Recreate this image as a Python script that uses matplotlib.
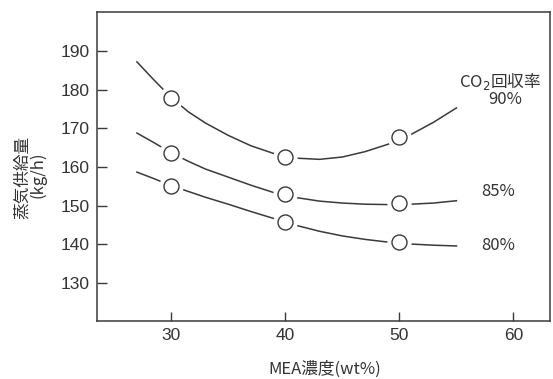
import matplotlib
matplotlib.use("Agg")
import matplotlib.pyplot as plt

plt.rcParams['font.family'] = ['Liberation Sans', 'Noto Sans CJK JP', 'DejaVu Sans']

# measured points (markers)
mea = [30, 40, 50]
steam_90 = [177.8, 162.7, 167.8]
steam_85 = [163.7, 153.0, 150.6]
steam_80 = [155.2, 145.8, 140.6]

# fitted curves
curve_x = [27.0, 28.5, 30.0, 31.5, 33.0, 35.0, 37.0, 39.0, 41.0, 43.0, 45.0, 47.0, 49.0, 51.0, 53.0, 55.0]
curve_90 = [187.2, 182.5, 178.0, 174.3, 171.4, 168.2, 165.5, 163.5, 162.3, 162.0, 162.6, 164.0, 165.9, 168.4, 171.6, 175.3]
curve_85 = [168.8, 166.3, 163.7, 161.5, 159.5, 157.4, 155.3, 153.4, 152.1, 151.2, 150.7, 150.4, 150.3, 150.4, 150.7, 151.3]
curve_80 = [158.7, 157.0, 155.2, 153.7, 152.2, 150.4, 148.5, 146.7, 144.9, 143.4, 142.2, 141.3, 140.6, 140.1, 139.8, 139.6]

x_ticks = [30, 40, 50, 60]
y_ticks = [130, 140, 150, 160, 170, 180, 190]
labels = ['90%', '85%', '80%']

ink = '#3a3a3a'
fig = plt.figure(figsize=(5.53, 3.79), dpi=100)
ax = fig.add_axes([97/553, 1-321/379, (550-97)/553, (321-12)/379])

for cy, my in [(curve_90, steam_90), (curve_85, steam_85), (curve_80, steam_80)]:
    ax.plot(curve_x, cy, color=ink, lw=1.1, zorder=2)
    ax.plot(mea, my, linestyle='none', marker='o', ms=16.5, mfc='white', mec='white', zorder=3)
    ax.plot(mea, my, linestyle='none', marker='o', ms=10.8, mfc='white', mec=ink, mew=1.0, zorder=4)

ax.set_xlim(23.5, 63.2)
ax.set_ylim(120.2, 200.1)
ax.set_xticks(x_ticks)
ax.set_yticks(y_ticks)
ax.tick_params(axis='both', direction='in', colors=ink, labelcolor='#333333', labelsize=12.5, width=1.0)
ax.tick_params(axis='y', length=7.2, pad=5)
ax.tick_params(axis='x', length=6.5, pad=5)
for s in ax.spines.values():
    s.set_color(ink)
    s.set_linewidth(1.1)

cjk = ['Noto Sans CJK JP', 'DejaVu Sans']
fig.text(22/553, 1-177/379, '蒸気供給量', rotation=90, ha='center', va='center', fontsize=12, color='#333333', family=cjk)
fig.text(38/553, 1-175/379, '(kg/h)', rotation=90, ha='center', va='center', fontsize=12, color='#333333', family=cjk)
fig.text(325/553, 1-369/379, 'MEA濃度(wt%)', ha='center', va='center', fontsize=12, color='#333333', family=cjk)

fig.text(500/553, 1-82/379, 'CO$_2$回収率', ha='center', va='center', fontsize=12, color='#333333', family=cjk)
fig.text(505/553, 1-100/379, labels[0], ha='center', va='center', fontsize=12, color='#333333', family=cjk)
fig.text(498/553, 1-192/379, labels[1], ha='center', va='center', fontsize=12, color='#333333', family=cjk)
fig.text(498/553, 1-245/379, labels[2], ha='center', va='center', fontsize=12, color='#333333', family=cjk)

fig.savefig('out.png', dpi=100)
